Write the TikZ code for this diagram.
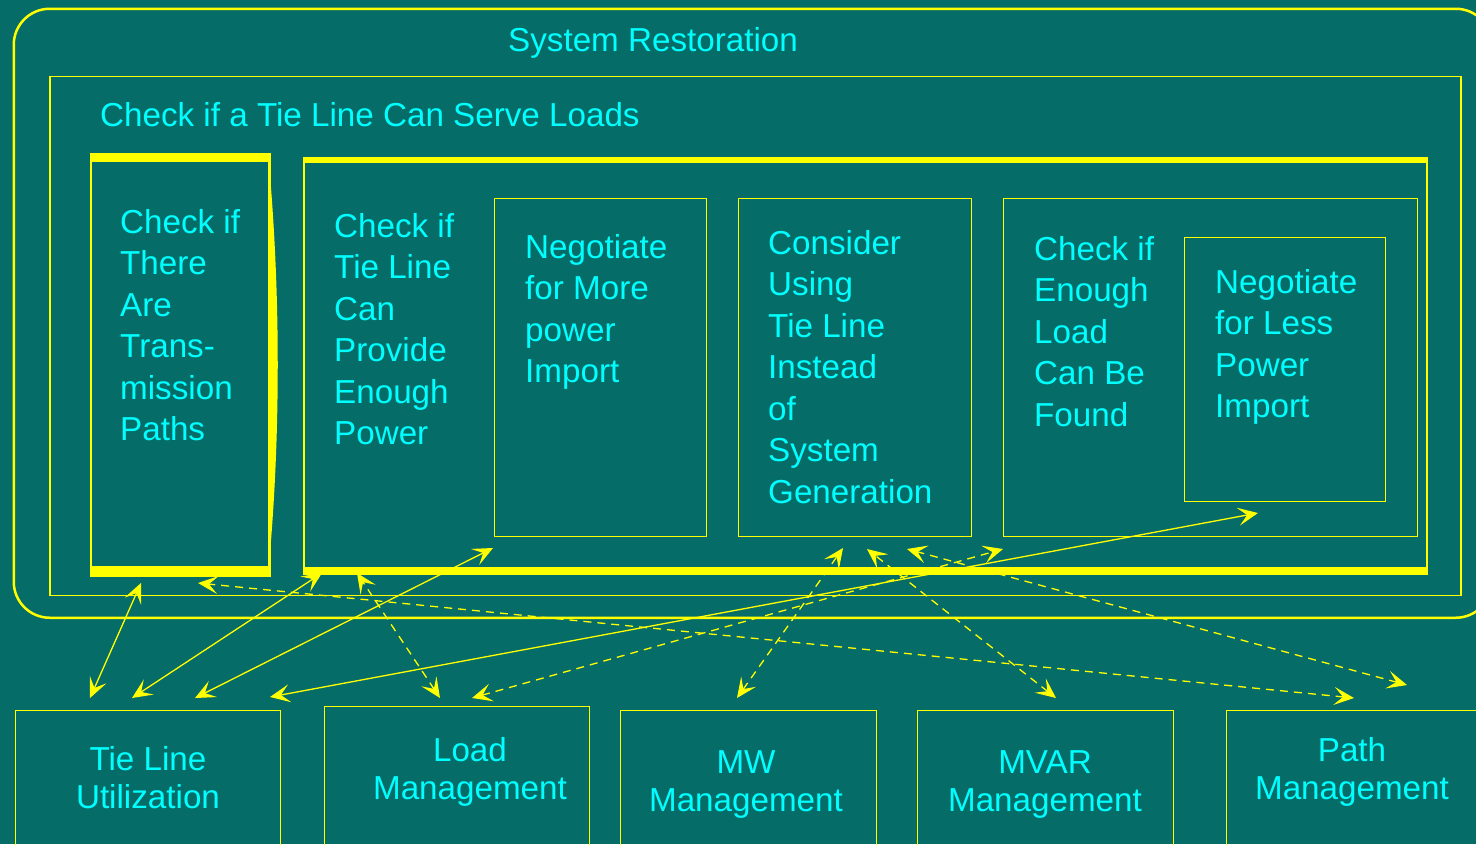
\documentclass[tikz,border=0pt]{standalone}
\usepackage{fontspec}
\setmainfont{Liberation Sans}
\definecolor{Fondo}{RGB}{6,108,103}
\definecolor{Linea}{RGB}{255,255,0}
\definecolor{Texto}{RGB}{0,255,255}
\usetikzlibrary{arrows.meta}
\tikzset{
    caja/.style={draw=Linea, line width=1.2pt, inner sep=0pt, anchor=north west},
    texto/.style={text=Texto, inner sep=0pt, anchor=north west, align=left,
        font=\fontsize{33.2}{41.5}\selectfont},
    etiqueta/.style={text=Texto, inner sep=0pt, align=center,
        font=\fontsize{33.2}{38}\selectfont},
    flecha/.style={draw=Linea, line width=1.3pt,
        {Stealth[length=20pt, width=18pt, inset=9pt]}-{Stealth[length=20pt, width=18pt, inset=9pt]}},
    flecha discontinua/.style={flecha, dash pattern=on 8pt off 6pt},
}

\begin{document}
\begin{tikzpicture}[x=1pt, y=-1pt]

\useasboundingbox (0,0) rectangle (1476,844);
\clip (0,0) rectangle (1476,844);
\fill[Fondo] (0,0) rectangle (1476,844);

% Cajas contenedoras
\node[caja, line width=2.5pt, rounded corners=36pt,
    minimum width=1478, minimum height=609] (restauracion) at (12.5,7.5) {};
\node[caja, line width=1.5pt, minimum width=1411, minimum height=519] (servir) at (49,75.5) {};

\node[caja, line width=1.5pt, minimum width=179, minimum height=422] (caminos) at (90,153) {};
\node[caja, line width=1.5pt, minimum width=1123, minimum height=416] (potencia) at (303,157) {};

\node[caja, minimum width=212, minimum height=338] (negMas) at (494,198) {};
\node[caja, minimum width=233, minimum height=338] (considerar) at (738,198) {};
\node[caja, minimum width=414, minimum height=338] (carga) at (1003,198) {};
\node[caja, minimum width=201, minimum height=264] (negMenos) at (1184,237) {};

% Barras gruesas
\fill[Linea] (90,153) rectangle (269,162);
\fill[Linea] (90,566) rectangle (269,575);
\fill[Linea] (268,153) .. controls (281,290) and (281,440) .. (268,575) -- cycle;
\fill[Linea] (303,157) rectangle (1426,163);
\fill[Linea] (303,567) rectangle (1426,573);

% Cajas de abajo
\node[caja, minimum width=265, minimum height=170] (utilizacion) at (15,710) {};
\node[caja, minimum width=265, minimum height=174] (gestCarga) at (323.5,706) {};
\node[caja, minimum width=256, minimum height=170] (gestMW) at (620,710) {};
\node[caja, minimum width=256, minimum height=170] (gestMVAR) at (917,710) {};
\node[caja, minimum width=274, minimum height=170] (gestCamino) at (1226,710) {};

% Textos
\node[texto] (tRestauracion) at (508,27) {System Restoration};
\node[texto] (tServir) at (100,102) {Check if a Tie Line Can Serve Loads};
\node[texto] (tCaminos) at (120,209) {Check if\\There\\Are\\Trans-\\mission\\Paths};
\node[texto] (tPotencia) at (334,213) {Check if\\Tie Line\\Can\\Provide\\Enough\\Power};
\node[texto] (tNegMas) at (525,234) {Negotiate\\for More\\power\\Import};
\node[texto] (tConsiderar) at (768,230) {Consider\\Using\\Tie Line\\Instead\\of\\System\\Generation};
\node[texto] (tCarga) at (1034,236) {Check if\\Enough\\Load\\Can Be\\Found};
\node[texto] (tNegMenos) at (1215,269) {Negotiate\\for Less\\Power\\Import};

\node[etiqueta] (tUtilizacion) at (148,778) {Tie Line\\Utilization};
\node[etiqueta] (tGestCarga) at (470,772) {Load\\Management};
\node[etiqueta] (tGestMW) at (746,785) {MW\\Management};
\node[etiqueta] (tGestMVAR) at (1045,785) {MVAR\\Management};
\node[etiqueta] (tGestCamino) at (1352,772) {Path\\Management};

% Extremos de las flechas
\coordinate (pCaminos1) at (141,583);
\coordinate (pCaminos2) at (198,583);
\coordinate (pPotencia1) at (322,573);
\coordinate (pPotencia2) at (357,573);
\coordinate (pNegMas) at (493,548);
\coordinate (pConsiderar1) at (843,548);
\coordinate (pConsiderar2) at (867,549);
\coordinate (pConsiderar3) at (907,549);
\coordinate (pConsiderar4) at (1003,549);
\coordinate (pNegMenos) at (1258,513);
\coordinate (pUtil1) at (90,698);
\coordinate (pUtil2) at (132,698);
\coordinate (pUtil3) at (195,698);
\coordinate (pUtil4) at (270,697);
\coordinate (pCarga1) at (440,698);
\coordinate (pCarga2) at (472,698);
\coordinate (pMW) at (737,698);
\coordinate (pMVAR) at (1056,698);
\coordinate (pCamino1) at (1354,698);
\coordinate (pCamino2) at (1407,685);

% Flechas
\draw[flecha] (pUtil1) -- (pCaminos1);
\draw[flecha] (pUtil2) -- (pPotencia1);
\draw[flecha] (pUtil3) -- (pNegMas);
\draw[flecha] (pUtil4) -- (pNegMenos);
\draw[flecha discontinua] (pCarga1) -- (pPotencia2);
\draw[flecha discontinua] (pCarga2) -- (pConsiderar4);
\draw[flecha discontinua] (pMW) -- (pConsiderar1);
\draw[flecha discontinua] (pMVAR) -- (pConsiderar2);
\draw[flecha discontinua] (pCamino2) -- (pConsiderar3);
\draw[flecha discontinua] (pCamino1) -- (pCaminos2);
\end{tikzpicture}
\end{document}
